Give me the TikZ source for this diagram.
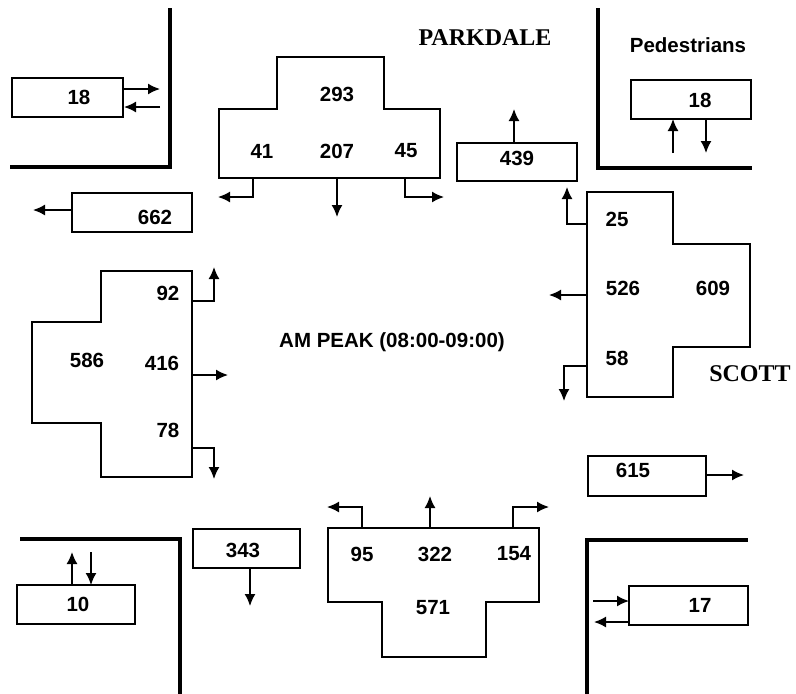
\documentclass[tikz,border=0pt]{standalone}
\usepackage{fontspec}
\usetikzlibrary{arrows.meta}
\newfontfamily\sansfnt{Liberation Sans}
\newfontfamily\seriffnt{Liberation Serif}
\tikzset{
  wall/.style={line width=4.5pt, line cap=rect},
  boxline/.style={line width=1.6pt, line join=miter},
  arr/.style={line width=1.6pt, -{Latex[length=12pt,width=11pt]}},
  num/.style={inner sep=0pt, font=\sansfnt\fontsize{20.5}{22}\selectfont\bfseries},
  street/.style={inner sep=0pt, font=\seriffnt\fontsize{24}{26}\selectfont\bfseries, text=black}
}
\begin{document}
\begin{tikzpicture}[x=1pt,y=-1pt]
\useasboundingbox[fill=white] (0,0) rectangle (796,694);

% ---------- top-left corner ----------
\draw[wall] (12,167) -- (170,167) -- (170,10);
\draw[boxline] (12,78) rectangle (123,117);
\node[num] (nw18) at (79,97) {18};
\coordinate (nwa1) at (123,89); \coordinate (nwa2) at (160,89);
\coordinate (nwb1) at (160,107); \coordinate (nwb2) at (124,107);
\draw[arr] (nwa1) -- (nwa2);
\draw[arr] (nwb1) -- (nwb2);

\draw[boxline] (72,193) rectangle (192,232);
\node[num] (w662) at (155,217) {662};
\coordinate (w662a) at (72,210); \coordinate (w662b) at (33,210);
\draw[arr] (w662a) -- (w662b);

% ---------- north approach ----------
\draw[boxline] (219,178) -- (219,109) -- (277,109) -- (277,57) -- (384,57) -- (384,109) -- (440,109) -- (440,178) -- cycle;
\node[num] (n293) at (337,94) {293};
\node[num] (n41) at (262,151) {41};
\node[num] (n207) at (337,151) {207};
\node[num] (n45) at (406,151) {45};
\draw[arr] (253,178) -- (253,197) -- (218,197);
\draw[arr] (337,178) -- (337,217);
\draw[arr] (405,178) -- (405,197) -- (444,197);

\node[street] (park) at (485,38) {PARKDALE};

% ---------- top-right corner ----------
\node[num] (ped) at (688,45) {Pedestrians};
\draw[wall] (598,10) -- (598,168) -- (750,168);
\draw[boxline] (631,80) rectangle (751,119);
\node[num] (ne18) at (700,100) {18};
\draw[arr] (673,153) -- (673,119);
\draw[arr] (706,119) -- (706,153);

\draw[boxline] (457,143) rectangle (577,181);
\node[num] (n439) at (517,158) {439};
\draw[arr] (514,143) -- (514,109);

% ---------- east approach ----------
\draw[boxline] (587,192) -- (673,192) -- (673,244) -- (750,244) -- (750,347) -- (673,347) -- (673,397) -- (587,397) -- cycle;
\node[num] (e25) at (617,219) {25};
\node[num] (e526) at (623,288) {526};
\node[num] (e609) at (713,288) {609};
\node[num] (e58) at (617,358) {58};
\draw[arr] (587,224) -- (567,224) -- (567,187);
\draw[arr] (587,295) -- (549,295);
\draw[arr] (587,366) -- (564,366) -- (564,401);

\node[street] (scott) at (750,374) {SCOTT};

% ---------- centre ----------
\node[num] (peak) at (392,342) {AM PEAK (08:00-09:00)};

% ---------- west approach ----------
\draw[boxline] (192,271) -- (101,271) -- (101,322) -- (32,322) -- (32,423) -- (101,423) -- (101,477) -- (192,477) -- cycle;
\node[num] (w92) at (168,293) {92};
\node[num] (w586) at (87,360) {586};
\node[num] (w416) at (162,363) {416};
\node[num] (w78) at (168,430) {78};
\draw[arr] (192,301) -- (214,301) -- (214,267);
\draw[arr] (192,375) -- (228,375);
\draw[arr] (192,448) -- (214,448) -- (214,479);

% ---------- east exit ----------
\draw[boxline] (588,456) rectangle (706,496);
\node[num] (e615) at (633,470) {615};
\draw[arr] (706,475) -- (744,475);

% ---------- bottom-right corner ----------
\draw[wall] (746,540) -- (587,540) -- (587,694);
\draw[boxline] (629,586) rectangle (748,625);
\node[num] (se17) at (700,605) {17};
\draw[arr] (593,601) -- (629,601);
\draw[arr] (629,622) -- (594,622);

% ---------- bottom-left corner ----------
\draw[wall] (22,539) -- (180,539) -- (180,692);
\draw[boxline] (17,585) rectangle (135,624);
\node[num] (sw10) at (78,604) {10};
\draw[arr] (72,585) -- (72,552);
\draw[arr] (91,552) -- (91,585);

\draw[boxline] (193,529) rectangle (300,568);
\node[num] (s343) at (243,550) {343};
\draw[arr] (250,568) -- (250,606);

% ---------- south approach ----------
\draw[boxline] (328,528) -- (539,528) -- (539,602) -- (486,602) -- (486,657) -- (382,657) -- (382,602) -- (328,602) -- cycle;
\node[num] (s95) at (362,554) {95};
\node[num] (s322) at (435,554) {322};
\node[num] (s154) at (514,554) {154};
\node[num] (s571) at (433,608) {571};
\draw[arr] (362,528) -- (362,507) -- (327,507);
\draw[arr] (430,528) -- (430,496);
\draw[arr] (513,528) -- (513,507) -- (549,507);
\end{tikzpicture}
\end{document}
